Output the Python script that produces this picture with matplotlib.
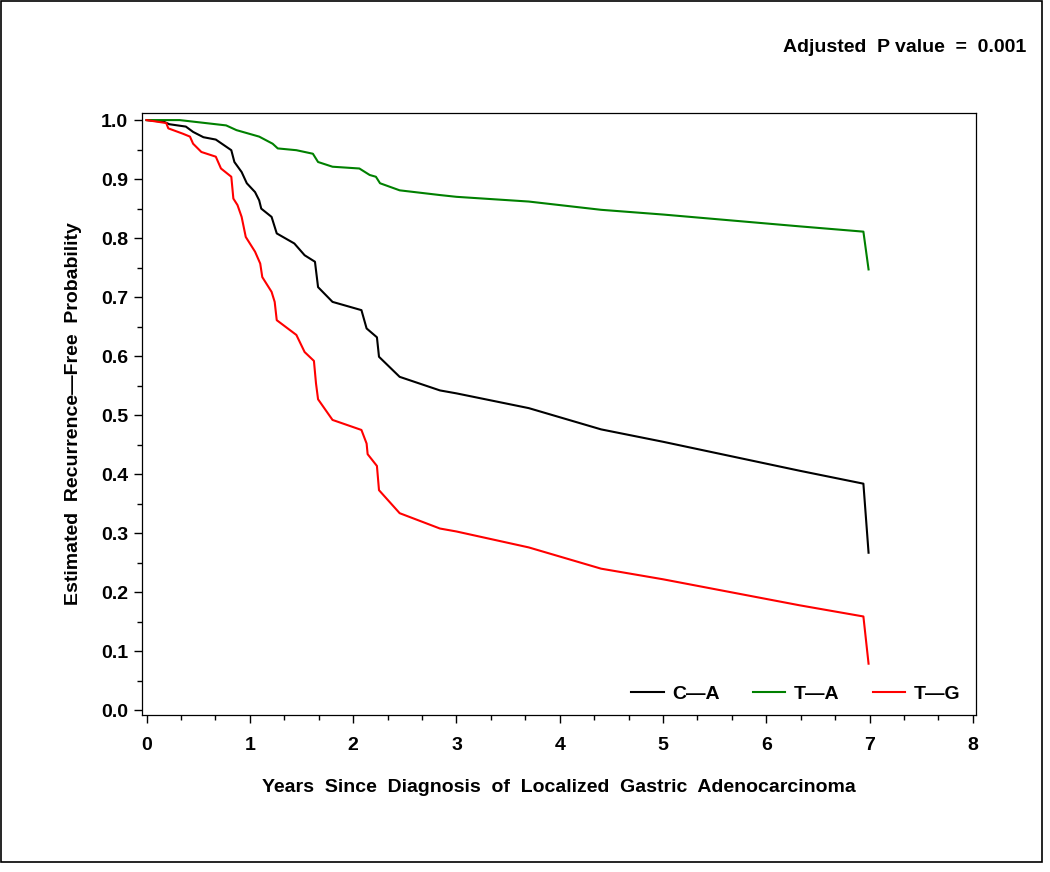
import numpy as np
import matplotlib
matplotlib.use("Agg")
import matplotlib.pyplot as plt
from matplotlib.patches import Rectangle
from matplotlib.ticker import MultipleLocator

plt.rcParams['font.family'] = ['Liberation Sans', 'DejaVu Sans']
plt.rcParams['font.weight'] = 'bold'

# Adjusted recurrence-free curves (years, probability)
t_ca = [0, 0.17, 0.22, 0.38, 0.45, 0.55, 0.67, 0.82, 0.85, 0.92, 0.97, 1.05, 1.09,
        1.11, 1.21, 1.26, 1.43, 1.53, 1.63, 1.66, 1.80, 2.08, 2.13, 2.23, 2.25,
        2.45, 2.84, 3.0, 3.7, 4.4, 5.0, 6.32, 6.94, 6.99]
s_ca = [1.0, 0.997, 0.993, 0.989, 0.980, 0.971, 0.967, 0.949, 0.929, 0.912, 0.893,
        0.878, 0.864, 0.850, 0.836, 0.808, 0.791, 0.771, 0.760, 0.717, 0.692, 0.678,
        0.647, 0.632, 0.599, 0.565, 0.542, 0.537, 0.512, 0.476, 0.455, 0.406, 0.384,
        0.267]

t_ta = [0, 0.32, 0.77, 0.87, 1.09, 1.22, 1.27, 1.45, 1.61, 1.66, 1.80, 2.06, 2.16,
        2.22, 2.26, 2.45, 2.84, 3.0, 3.7, 4.4, 5.0, 6.32, 6.94, 6.99]
s_ta = [1.0, 1.0, 0.991, 0.983, 0.972, 0.960, 0.952, 0.949, 0.943, 0.929, 0.921,
        0.918, 0.907, 0.904, 0.893, 0.881, 0.873, 0.870, 0.862, 0.848, 0.840, 0.820,
        0.811, 0.747]

t_tg = [0, 0.19, 0.21, 0.35, 0.42, 0.45, 0.53, 0.67, 0.72, 0.82, 0.84, 0.88, 0.92,
        0.96, 1.05, 1.10, 1.12, 1.21, 1.24, 1.26, 1.45, 1.53, 1.62, 1.64, 1.66, 1.80,
        2.08, 2.13, 2.14, 2.23, 2.25, 2.45, 2.84, 3.0, 3.7, 4.4, 5.0, 6.32, 6.94, 6.99]
s_tg = [1.0, 0.995, 0.986, 0.977, 0.972, 0.960, 0.946, 0.938, 0.918, 0.904, 0.867,
        0.856, 0.836, 0.802, 0.777, 0.757, 0.734, 0.709, 0.692, 0.661, 0.636, 0.607,
        0.592, 0.554, 0.527, 0.492, 0.475, 0.452, 0.434, 0.414, 0.373, 0.334, 0.308,
        0.303, 0.276, 0.240, 0.222, 0.178, 0.159, 0.079]

groups = ['C\u2014A', 'T\u2014A', 'T\u2014G']
colors = ['black', 'green', 'red']

fig = plt.figure(figsize=(10.5, 8.72), dpi=100)
ax = fig.add_axes([0.1352, 0.180, 0.7943, 0.6904])

for (t, s), lab, c in zip([(t_ca, s_ca), (t_ta, s_ta), (t_tg, s_tg)], groups, colors):
    ax.plot(t, s, color=c, lw=1.5, label=lab)

ax.set_xlim(-0.045, 8.03)
ax.set_ylim(-0.008, 1.012)
ax.xaxis.set_major_locator(MultipleLocator(1))
ax.xaxis.set_minor_locator(MultipleLocator(1 / 3))
ax.yaxis.set_major_locator(MultipleLocator(0.1))
ax.yaxis.set_minor_locator(MultipleLocator(0.05))
ax.set_yticklabels([f'{v:.1f}' for v in ax.get_yticks()])
ax.tick_params(which='major', length=6, width=1, labelsize=14, pad=4)
ax.tick_params(which='minor', length=3.5, width=1)
ax.tick_params(axis='x', pad=10)
for sp in ax.spines.values():
    sp.set_linewidth(0.9)

ax.set_xlabel('Years  Since  Diagnosis  of  Localized  Gastric  Adenocarcinoma',
              fontsize=14, fontweight='bold', labelpad=18)
ax.set_ylabel('Estimated  Recurrence\u2014Free  Probability',
              fontsize=14, fontweight='bold', labelpad=14)

ax.legend(loc='center right', ncol=3, frameon=False, fontsize=14,
          handlelength=1.65, columnspacing=1.7, handletextpad=0.45,
          borderpad=0, borderaxespad=0,
          bbox_to_anchor=((960 - 142) / 834, (715 - 694) / 602))

fig.text(783 / 1050, 1 - 48 / 872, 'Adjusted  P value  =  0.001', fontsize=14,
         fontweight='bold', ha='left', va='center')

fig.patches.append(Rectangle((1 / 1050, 10 / 872), 1041 / 1050, 861 / 872,
                             transform=fig.transFigure, fill=False,
                             edgecolor='black', lw=1.2))

fig.savefig('out.png', dpi=100)
